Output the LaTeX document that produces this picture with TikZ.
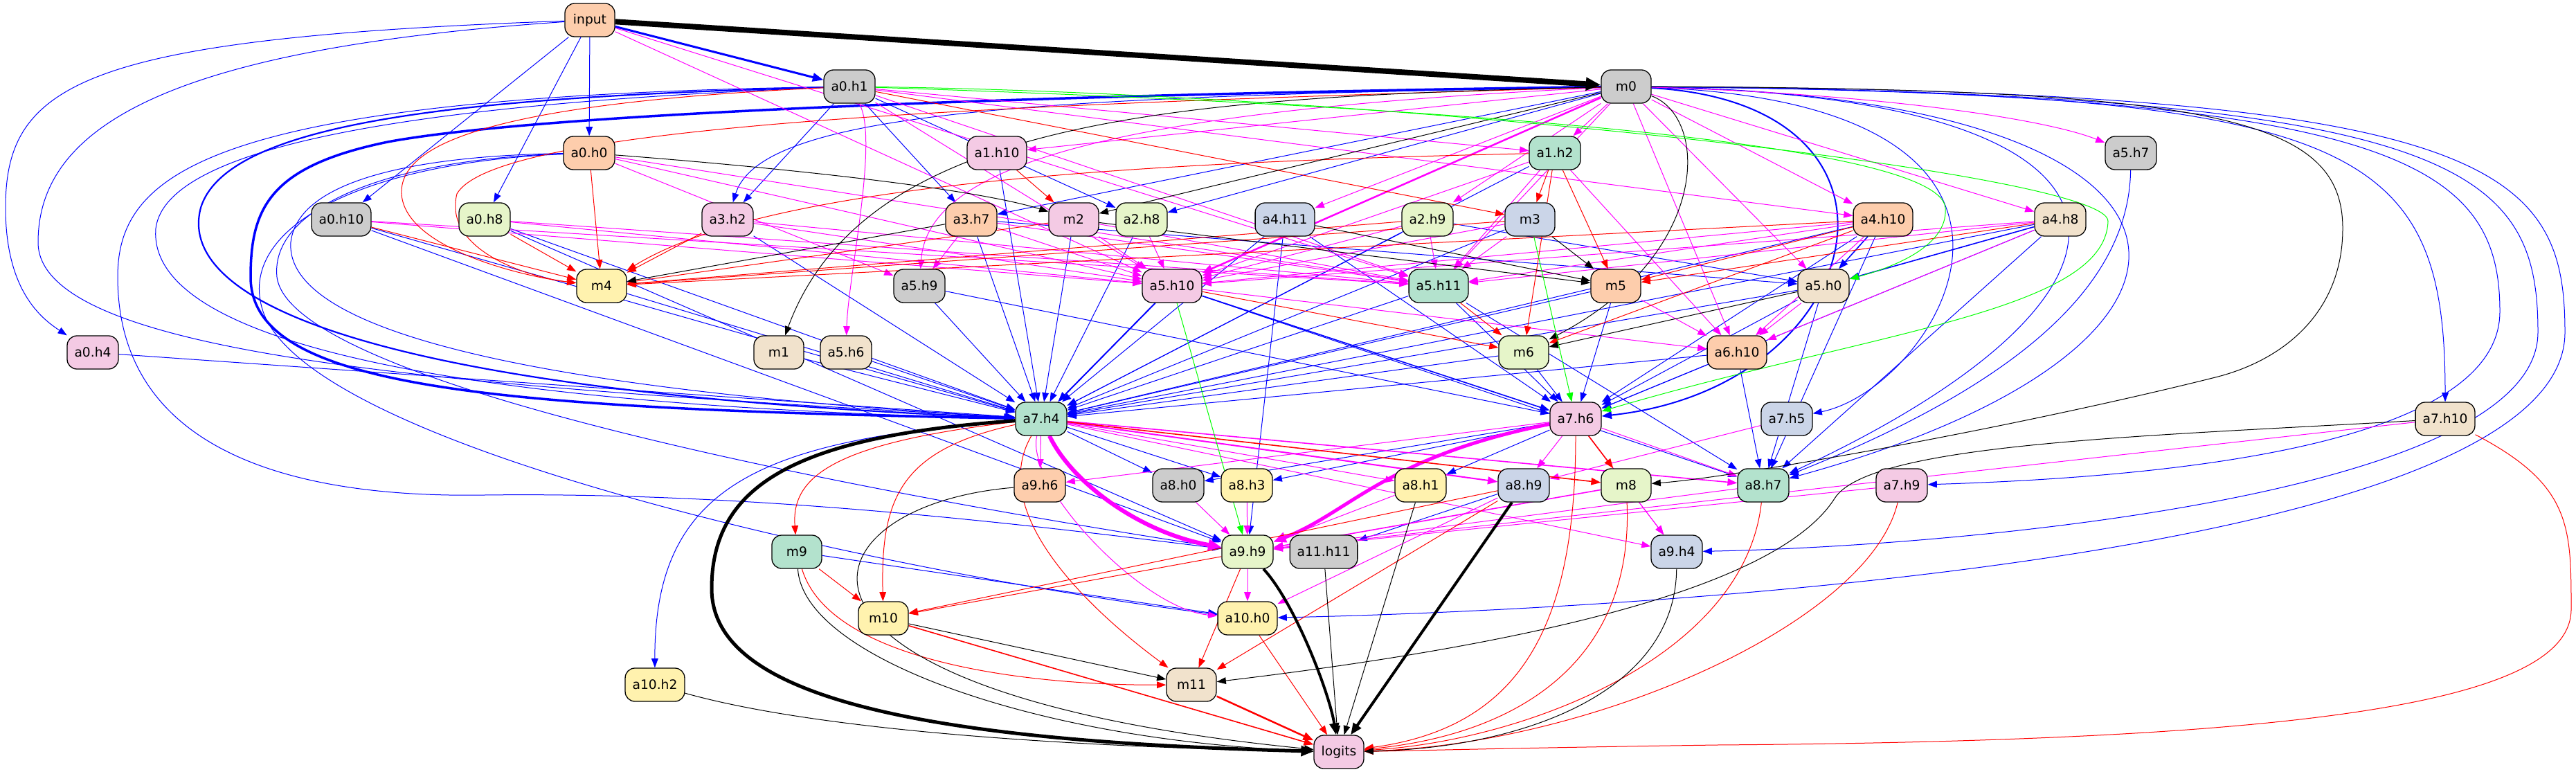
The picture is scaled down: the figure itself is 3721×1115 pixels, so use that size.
\documentclass[tikz,border=0pt]{standalone}
\usepackage{fontspec}
\setmainfont{DejaVu Sans}
\usetikzlibrary{arrows.meta}
\definecolor{cG}{HTML}{B3E2CD}
\definecolor{cO}{HTML}{FDCDAC}
\definecolor{cB}{HTML}{CBD5E8}
\definecolor{cP}{HTML}{F4CAE4}
\definecolor{cL}{HTML}{E6F5C9}
\definecolor{cY}{HTML}{FFF2AE}
\definecolor{cT}{HTML}{F1E2CC}
\definecolor{cX}{HTML}{CCCCCC}
\definecolor{eB}{HTML}{0000FF}
\definecolor{eR}{HTML}{FF0000}
\definecolor{eM}{HTML}{FF00FF}
\definecolor{eG}{HTML}{00FF00}
\pgfdeclarelayer{bg}
\pgfsetlayers{bg,main}
\tikzset{
  nd/.style={draw, line width=1.3pt, rounded corners=14pt, minimum width=72pt, minimum height=48pt, inner xsep=10.5pt, inner ysep=0pt, font=\fontsize{18.67}{22}\selectfont},
  ed/.style={-{Triangle[length=12pt 1.2, width=8.5pt 1.2]}, line width=1pt},
  bl/.style={ed, draw=eB},
  rd/.style={ed, draw=eR},
  mg/.style={ed, draw=eM},
  bk/.style={ed, draw=black},
  gr/.style={ed, draw=eG},
}
\begin{document}
\begin{tikzpicture}[x=1pt, y=-1pt]
\useasboundingbox (0,0) rectangle (3721,1115);
% nodes
\node[nd, fill=cO] (input) at (852,29) {input};
\node[nd, fill=cX] (a0h1) at (1227,125) {a0.h1};
\node[nd, fill=cX] (m0) at (2349,125) {m0};
\node[nd, fill=cO] (a0h0) at (851,221) {a0.h0};
\node[nd, fill=cP] (a1h10) at (1440,221) {a1.h10};
\node[nd, fill=cG] (a1h2) at (2246,221) {a1.h2};
\node[nd, fill=cX] (a5h7) at (3078,221) {a5.h7};
\node[nd, fill=cX] (a0h10) at (493,317) {a0.h10};
\node[nd, fill=cL] (a0h8) at (700,317) {a0.h8};
\node[nd, fill=cP] (a3h2) at (1051,317) {a3.h2};
\node[nd, fill=cO] (a3h7) at (1403,317) {a3.h7};
\node[nd, fill=cP] (m2) at (1551,317) {m2};
\node[nd, fill=cL] (a2h8) at (1649,317) {a2.h8};
\node[nd, fill=cB] (a4h11) at (1856,317) {a4.h11};
\node[nd, fill=cL] (a2h9) at (2062,317) {a2.h9};
\node[nd, fill=cB] (m3) at (2210,317) {m3};
\node[nd, fill=cO] (a4h10) at (2720,317) {a4.h10};
\node[nd, fill=cT] (a4h8) at (2976,317) {a4.h8};
\node[nd, fill=cY] (m4) at (869,413) {m4};
\node[nd, fill=cX] (a5h9) at (1328,413) {a5.h9};
\node[nd, fill=cP] (a5h10) at (1693,413) {a5.h10};
\node[nd, fill=cG] (a5h11) at (2078,413) {a5.h11};
\node[nd, fill=cO] (m5) at (2334,413) {m5};
\node[nd, fill=cT] (a5h0) at (2634,413) {a5.h0};
\node[nd, fill=cP] (a0h4) at (134,509) {a0.h4};
\node[nd, fill=cT] (m1) at (1125,509) {m1};
\node[nd, fill=cT] (a5h6) at (1222,509) {a5.h6};
\node[nd, fill=cL] (m6) at (2201,509) {m6};
\node[nd, fill=cO] (a6h10) at (2509,509) {a6.h10};
\node[nd, fill=cG] (a7h4) at (1504,605) {a7.h4};
\node[nd, fill=cP] (a7h6) at (2276,605) {a7.h6};
\node[nd, fill=cB] (a7h5) at (2581,605) {a7.h5};
\node[nd, fill=cT] (a7h10) at (3532,605) {a7.h10};
\node[nd, fill=cO] (a9h6) at (1502,701) {a9.h6};
\node[nd, fill=cX] (a8h0) at (1702,701) {a8.h0};
\node[nd, fill=cY] (a8h3) at (1801,701) {a8.h3};
\node[nd, fill=cY] (a8h1) at (2052,701) {a8.h1};
\node[nd, fill=cB] (a8h9) at (2201,701) {a8.h9};
\node[nd, fill=cL] (m8) at (2349,701) {m8};
\node[nd, fill=cG] (a8h7) at (2547,701) {a8.h7};
\node[nd, fill=cP] (a7h9) at (2747,701) {a7.h9};
\node[nd, fill=cG] (m9) at (1151,797) {m9};
\node[nd, fill=cL] (a9h9) at (1802,797) {a9.h9};
\node[nd, fill=cX] (a11h11) at (1912,797) {a11.h11};
\node[nd, fill=cB] (a9h4) at (2422,797) {a9.h4};
\node[nd, fill=cY] (m10) at (1276,893) {m10};
\node[nd, fill=cY] (a10h0) at (1802,893) {a10.h0};
\node[nd, fill=cY] (a10h2) at (946,989) {a10.h2};
\node[nd, fill=cT] (m11) at (1721,989) {m11};
\node[nd, fill=cP] (logits) at (1934,1086) {logits};

\begin{pgfonlayer}{bg}
% ---------- blue straight
\foreach \s/\t in {input/a0h0, input/a0h10, input/a0h8,
  a0h1/a3h2, a0h1/a3h7, a0h1/a2h8, m0/a3h7, m0/a2h8,
  a0h10/a7h4, a0h8/a7h4, a0h4/a7h4, a3h2/a7h4, a3h7/a7h4, a1h10/a7h4, m1/a7h4, a5h6/a7h4,
  a5h9/a7h4, m4/a7h4, m2/a7h4, a2h8/a7h4, a4h11/a7h4, a2h9/a7h4, m3/a7h4, a1h2/a7h4,
  a5h11/a7h4, m5/a7h4, a5h0/a7h4, a4h10/a7h4, a4h8/a7h4, m6/a7h4, a6h10/a7h4,
  a5h11/a7h6, m6/a7h6, m5/a7h6, a5h9/a7h6, a6h10/a7h6, a5h0/a7h6, a4h10/a7h6, a4h8/a7h6, a4h11/a7h6,
  a2h9/a5h0, a3h7/a5h0,
  a7h4/a8h0, a7h6/a8h0, a7h4/a8h3, a7h6/a8h3, a7h6/a8h1,
  a5h11/a8h7, a4h10/a8h7, a4h8/a8h7, a5h0/a8h7, a6h10/a8h7, a5h10/a8h7,
  a0h10/a9h9, a0h8/a9h9, a4h11/a9h9, a8h9/a11h11, m9/a10h0}
  \draw[bl] (\s) -- (\t);
\draw[bl, line width=3pt] (input) -- (a0h1);
\draw[bl, line width=2pt] (a5h10) -- (a7h4);
\draw[bl, line width=1.6pt] (a5h10) -- (a7h6);
\draw[bl, line width=1.6pt] (a4h10) -- (a5h0);
\draw[bl, line width=1.6pt] (a4h8) -- (a5h0);
% ---------- blue curves
\draw[bl] (input) .. controls (120,55) and (8,120) .. (8,300) .. controls (8,420) and (60,460) .. (a0h4);
\draw[bl] (input) .. controls (250,70) and (55,180) .. (55,350) .. controls (55,520) and (700,560) .. (a7h4);
\draw[bl] (a0h1) .. controls (300,140) and (170,250) .. (170,400) .. controls (170,640) and (400,720) .. (700,715) .. controls (1100,710) and (1500,760) .. (a9h9);
\draw[bl, line width=3.5pt] (m0) .. controls (1600,135) and (800,160) .. (560,205) .. controls (390,240) and (362,300) .. (362,400) .. controls (362,560) and (700,590) .. (a7h4);
\draw[bl, line width=2.2pt] (a0h1) .. controls (700,140) and (330,170) .. (290,300) .. controls (250,450) and (600,570) .. (a7h4);
\draw[bl] (a0h1) .. controls (600,150) and (240,210) .. (225,330) .. controls (210,520) and (800,590) .. (a7h4);
\draw[bl] (a0h0) .. controls (600,225) and (430,260) .. (420,350) .. controls (410,500) and (900,570) .. (a7h4);
\draw[bl] (a0h0) .. controls (560,230) and (390,300) .. (400,400) .. controls (420,560) and (1300,720) .. (a9h9);
\draw[bl] (a0h0) .. controls (520,235) and (340,330) .. (380,450) .. controls (450,650) and (1300,830) .. (a10h0);
\draw[bl] (m0) .. controls (1500,140) and (1100,160) .. (a3h2);
\draw[bl, line width=2pt] (m0) .. controls (2800,150) and (2700,560) .. (a7h6);
\draw[bl] (m0) .. controls (3050,150) and (2800,560) .. (a7h5);
\draw[bl] (m0) .. controls (3400,135) and (3532,200) .. (a7h10);
\draw[bl] (m0) .. controls (3450,135) and (3611,230) .. (3611,450) .. controls (3611,650) and (3100,690) .. (a7h9);
\draw[bl] (m0) .. controls (3550,135) and (3666,240) .. (3666,480) .. controls (3666,720) and (2800,790) .. (a9h4);
\draw[bl] (m0) .. controls (3600,130) and (3705,240) .. (3705,480) .. controls (3705,800) and (2400,880) .. (a10h0);
\draw[bl] (m0) .. controls (3150,140) and (3150,420) .. (a8h7);
\draw[bl] (m0) .. controls (3250,140) and (3280,500) .. (a8h7);
\draw[bl] (a5h7) .. controls (3075,420) and (2900,560) .. (a8h7);
\draw[bl] (a7h4) .. controls (1100,635) and (945,700) .. (a10h2);
% ---------- magenta straight
\foreach \s/\t in {m0/a1h10, m0/a1h2, m0/a4h11, m0/a2h9, m0/a4h10, m0/a4h8, m0/a5h0, m0/a5h11, m0/a6h10,
  a0h1/a1h2, a0h1/a4h10, a0h1/a5h10, a0h1/a5h11, input/a5h10, input/a5h11,
  a0h0/a5h9, a0h0/a5h10, a0h0/a5h11, a0h10/a5h10, a0h10/a5h11, a0h8/a5h10, a0h8/a5h11,
  a3h2/a5h10, a3h2/a5h11, a3h7/a5h9, a3h7/a5h10, a3h7/a5h11, m2/a5h10, m2/a5h11, a2h8/a5h10,
  a1h2/a5h10, a1h2/a5h11, a1h2/a6h10, a2h9/a5h10, a2h9/a5h11, m3/a5h10, m3/a5h11,
  a4h10/a5h10, a4h10/a5h11, a4h10/a6h10, a4h8/a5h10, a4h8/a5h11, a4h8/a6h10,
  a5h0/a6h10, m5/a6h10, a5h10/a6h10,
  a7h4/a9h6, a7h4/a8h1, a7h6/a9h6, a7h6/a8h9, a7h6/a9h4, a7h6/a8h7, a7h4/a9h4,
  a7h5/a8h9, a7h10/a9h9, a7h9/a9h9, a8h0/a9h9, a8h3/a9h9, a8h1/a9h9, a8h9/a10h0,
  m8/a9h4, a8h7/a9h9, a9h9/a10h0}
  \draw[mg] (\s) -- (\t);
\draw[mg] (m0) .. controls (2700,135) and (2950,170) .. (a5h7);
\draw[mg, line width=2.5pt] (m0) -- (a5h10);
\draw[mg, line width=2pt] (a7h4) -- (a8h9);
\draw[mg, line width=1.6pt] (a7h4) -- (a8h7);
\draw[mg, line width=1.6pt] (m8) -- (a9h9);
\draw[mg] (m0) .. controls (1600,160) and (1340,240) .. (a5h9);
\draw[mg] (a0h1) .. controls (1270,200) and (1225,400) .. (a5h6);
\draw[mg, line width=6pt] (a7h4) .. controls (1550,700) and (1650,770) .. (a9h9);
\draw[mg, line width=5pt] (a7h6) .. controls (2000,660) and (1950,740) .. (a9h9);
\draw[mg] (a7h4) .. controls (1480,700) and (1650,880) .. (a10h0);
% ---------- red straight
\foreach \s/\t in {a0h1/m3, a1h10/m2, a1h2/m3, a1h2/m5, a1h2/m6,
  a0h0/m4, a0h10/m4, a0h8/m4, a3h2/m4, m2/m4, a2h9/m4, m3/m4, a4h10/m4,
  a4h10/m5, a4h8/m5, a4h10/m6, a5h11/m6, a5h10/m6,
  m9/m10, a9h9/m10, a8h9/m10, a9h9/m11, a8h9/m11, a10h0/logits}
  \draw[rd] (\s) -- (\t);
\draw[rd, line width=1.6pt] (a7h4) -- (m8);
\draw[rd, line width=1.6pt] (a7h6) -- (m8);
\draw[rd, line width=2.5pt] (m11) -- (logits);
\draw[rd, line width=1.6pt] (m10) -- (logits);
\draw[rd] (a0h1) .. controls (700,150) and (577,210) .. (580,280) .. controls (585,360) and (760,400) .. (m4);
\draw[rd] (m0) .. controls (1500,150) and (720,175) .. (660,280) .. controls (640,360) and (760,400) .. (m4);
\draw[rd] (a1h2) .. controls (1600,235) and (1100,270) .. (m4);
\draw[rd] (a7h4) .. controls (1200,640) and (1143,690) .. (m9);
\draw[rd] (a7h4) .. controls (1300,650) and (1272,720) .. (m10);
\draw[rd] (a7h4) .. controls (1420,750) and (1600,900) .. (m11);
\draw[rd] (m9) .. controls (1200,960) and (1500,990) .. (m11);
\draw[rd] (a7h6) .. controls (2276,900) and (2200,1050) .. (logits);
\draw[rd] (m8) .. controls (2360,950) and (2200,1060) .. (logits);
\draw[rd] (a8h7) .. controls (2520,950) and (2200,1070) .. (logits);
\draw[rd] (a7h9) .. controls (2700,900) and (2300,1075) .. (logits);
\draw[rd] (a7h10) .. controls (3714,700) and (3714,760) .. (3714,880) .. controls (3714,1020) and (3300,1070) .. (2480,1076) .. controls (2200,1080) and (2050,1084) .. (logits);
% ---------- black
\foreach \s/\t in {m0/m2, a3h7/m4, m2/m5, a4h11/m5, m3/m5, a5h0/m6, m10/m11,
  a11h11/logits, a8h1/logits}
  \draw[bk] (\s) -- (\t);
\draw[bk, line width=8pt] (input) -- (m0);
\draw[bk, line width=4pt] (a8h9) -- (logits);
\draw[bk, line width=4pt] (a9h9) .. controls (1870,870) and (1920,1000) .. (logits);
\draw[bk, line width=5pt] (a7h4) .. controls (1150,630) and (1028,700) .. (1028,850) .. controls (1028,1000) and (1300,1070) .. (logits);
\draw[bk] (a0h0) .. controls (1100,240) and (1400,270) .. (m2);
\draw[bk] (m0) .. controls (1700,140) and (1250,170) .. (m1);
\draw[bk] (m0) .. controls (2470,170) and (2470,370) .. (m6);
\draw[bk] (m0) .. controls (3200,128) and (3384,170) .. (3384,330) .. controls (3384,450) and (3300,520) .. (3200,545) .. controls (2900,620) and (2500,690) .. (m8);
\draw[bk] (a7h10) .. controls (3100,630) and (2700,640) .. (2650,720) .. controls (2580,830) and (2300,920) .. (m11);
\draw[bk] (a9h4) .. controls (2420,1000) and (2200,1080) .. (logits);
\draw[bk] (m9) .. controls (1160,950) and (1500,1070) .. (logits);
\draw[bk] (a9h6) .. controls (1150,730) and (1060,1000) .. (logits);
\draw[bk] (a10h2) .. controls (1200,1060) and (1600,1080) .. (logits);
% ---------- green
\draw[gr] (m3) -- (a7h6);
\draw[gr] (a5h10) -- (a9h9);
\draw[gr] (a0h1) .. controls (2000,150) and (2800,200) .. (2810,300) .. controls (2815,360) and (2720,390) .. (a5h0);
\draw[gr] (a0h1) .. controls (2000,135) and (3050,250) .. (3045,320) .. controls (3040,450) and (2700,480) .. (a7h6);
\end{pgfonlayer}
\end{tikzpicture}
\end{document}
